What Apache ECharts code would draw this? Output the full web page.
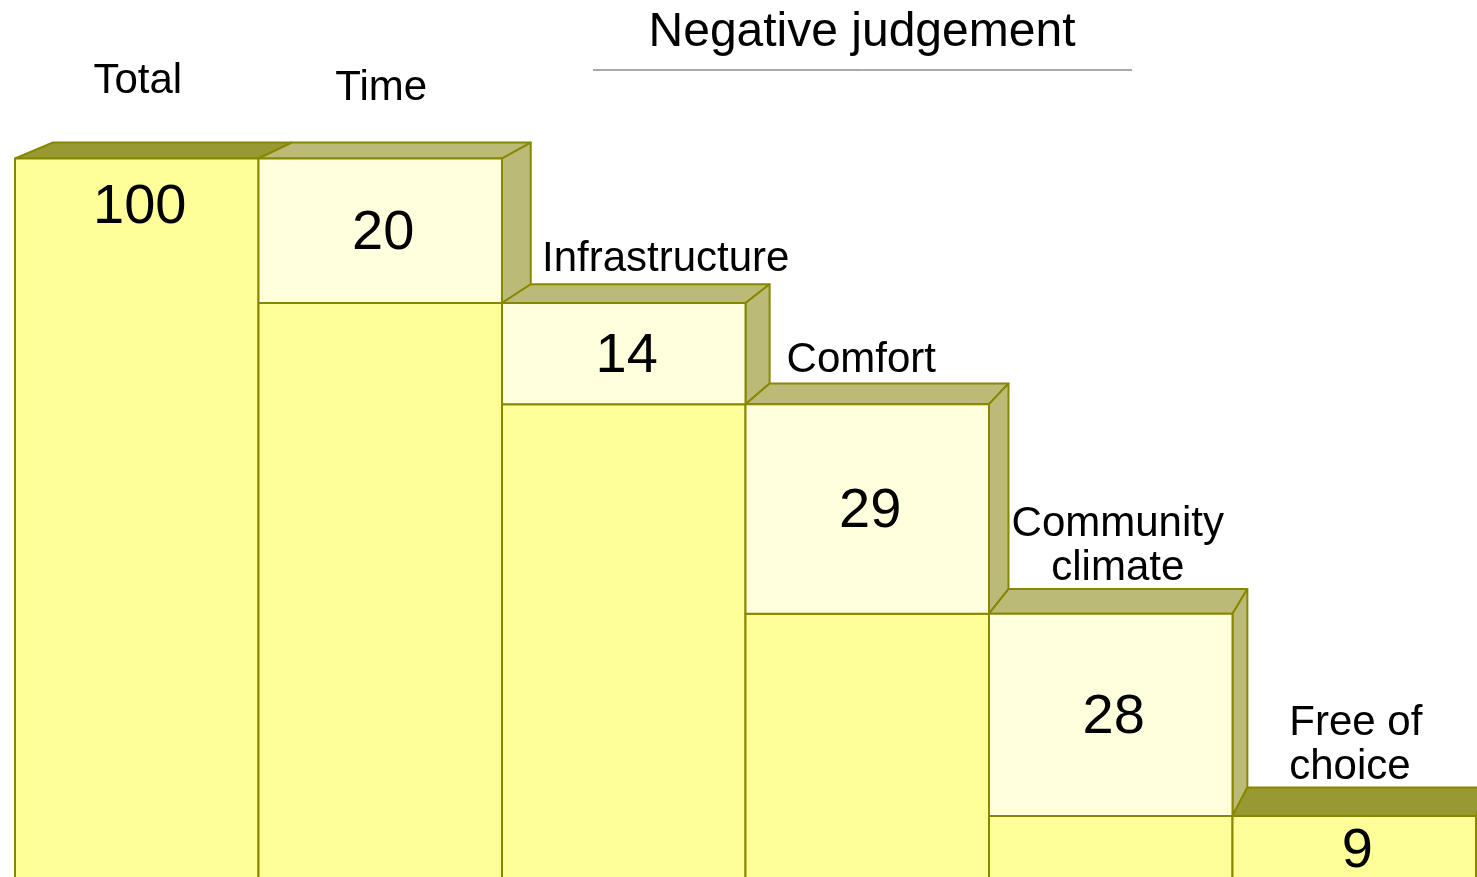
<!DOCTYPE html>
<html>
<head>
<meta charset="utf-8">
<title>Negative judgement</title>
<script src="https://cdn.jsdelivr.net/npm/echarts@6/dist/echarts.min.js"></script>
<style>
html, body { margin: 0; padding: 0; background: #fff; }
#chart { width: 1477px; height: 877px; }
</style>
</head>
<body>
<div id="chart"></div>
<script>
// data
var categories = ['Total', 'Time', 'Infrastructure', 'Comfort', 'Community\nclimate', 'Free of\nchoice'];
var values = [100, 20, 14, 29, 28, 9];
var kinds = ['total', 'drop', 'drop', 'drop', 'drop', 'total'];

// label placement relative to the column centre / front top edge
var labelShift = [[1, -77], [1, -70], [42, -44], [-6, -44], [7, -67], [-65, -71]];
var labelAlign = ['center', 'center', 'center', 'center', 'center', 'left'];

// perspective for the 3d look: back point = p + K * (VP - p)
var K = 0.019, VPX = 2015, VPY = -683;
var EDGE = '#888800';

// build waterfall rows: [index, base, top, isDrop]
var rows = [];
var level = 0;
for (var i = 0; i < values.length; i++) {
  if (kinds[i] == 'total') {
    rows.push([i, 0, values[i], 0]);
    level = values[i];
  } else {
    rows.push([i, level - values[i], level, 1]);
    level = level - values[i];
  }
}

function back(x, y) {
  return [x + K * (VPX - x), y + K * (VPY - y)];
}

function renderItem(params, api) {
  var idx = api.value(0);
  var base = api.value(1);
  var top = api.value(2);
  var isDrop = api.value(3) == 1;
  var c = api.coord([idx, top]);
  var w = api.size([1, 0])[0];
  var xL = c[0] - w / 2, xR = c[0] + w / 2;
  var yTop = c[1];
  var yMid = api.coord([idx, base])[1];
  var yZero = api.coord([idx, 0])[1];
  var line = { stroke: EDGE, lineWidth: 2, lineJoin: 'round' };
  var kids = [];

  // top face
  kids.push({
    type: 'polygon',
    shape: { points: [[xL, yTop], [xR, yTop], back(xR, yTop), back(xL, yTop)] },
    style: Object.assign({ fill: isDrop ? '#BBBB77' : '#999933' }, line)
  });

  if (isDrop) {
    // side of the step
    kids.push({
      type: 'polygon',
      shape: { points: [[xR, yTop], back(xR, yTop), back(xR, yMid), [xR, yMid]] },
      style: Object.assign({ fill: '#BBBB77' }, line)
    });
    kids.push({
      type: 'rect',
      shape: { x: xL, y: yMid, width: w, height: yZero - yMid },
      style: Object.assign({ fill: '#FFFF99' }, line)
    });
    kids.push({
      type: 'rect',
      shape: { x: xL, y: yTop, width: w, height: yMid - yTop },
      style: Object.assign({ fill: '#FFFFDD' }, line)
    });
  } else {
    kids.push({
      type: 'rect',
      shape: { x: xL, y: yTop, width: w, height: yZero - yTop },
      style: Object.assign({ fill: '#FFFF99' }, line)
    });
  }

  // value label
  var vy = isDrop ? (yTop + yMid) / 2 : Math.min((yTop + yZero) / 2, yTop + 46);
  kids.push({
    type: 'text',
    style: {
      text: String(values[idx]), x: c[0] + 3, y: vy + 3,
      fill: '#000', fontSize: 56, fontFamily: 'Liberation Sans',
      align: 'center', verticalAlign: 'middle'
    }
  });

  // category label
  kids.push({
    type: 'text',
    style: {
      text: categories[idx], x: c[0] + labelShift[idx][0], y: yTop + labelShift[idx][1],
      fill: '#000', fontSize: 42, lineHeight: 44, fontFamily: 'Liberation Sans',
      align: labelAlign[idx], verticalAlign: 'middle'
    }
  });

  return { type: 'group', children: kids };
}

var chart = echarts.init(document.getElementById('chart'));
chart.setOption({
  animation: false,
  title: {
    text: 'Negative judgement',
    left: 857,
    top: 4,
    textAlign: 'center',
    textStyle: { fontSize: 48, fontWeight: 'normal', fontFamily: 'Liberation Sans', color: '#000' }
  },
  graphic: [{
    type: 'line',
    shape: { x1: 593, y1: 70, x2: 1132, y2: 70 },
    style: { stroke: '#555', lineWidth: 1 }
  }],
  // the base of the bars sits just below the picture's bottom edge
  grid: { left: 15, right: 1, top: 158.5, bottom: 0 },
  xAxis: { type: 'category', data: categories, show: false },
  yAxis: { type: 'value', min: 0.55, max: 100, show: false },
  series: [{
    type: 'custom',
    renderItem: renderItem,
    data: rows,
    clip: false
  }]
});
</script>
</body>
</html>
